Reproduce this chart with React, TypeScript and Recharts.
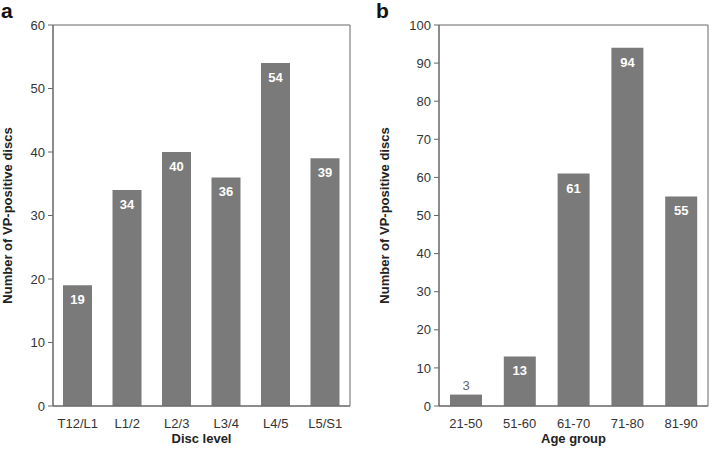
import { BarChart, Bar, XAxis, YAxis, ReferenceArea, LabelList } from "recharts";

const discLevels = ["T12/L1", "L1/2", "L2/3", "L3/4", "L4/5", "L5/S1"];
const discCounts = [19, 34, 40, 36, 54, 39];
const discTicks = [0, 10, 20, 30, 40, 50, 60];

const ageGroups = ["21-50", "51-60", "61-70", "71-80", "81-90"];
const ageCounts = [3, 13, 61, 94, 55];
const ageTicks = [0, 10, 20, 30, 40, 50, 60, 70, 80, 90, 100];

const FONT = '"Liberation Sans", Arial, Helvetica, sans-serif';
const BAR = "#7a7a7a";
const LINE = "#666";

const ValueLabel = (props: any) => {
  const { x, y, width, value } = props;
  const cx = Number(x) + Number(width) / 2;
  if (value < 5) {
    return (
      <text x={cx} y={Number(y) - 5} textAnchor="middle" fontSize={13} fill="#666" fontFamily={FONT}>
        {value}
      </text>
    );
  }
  return (
    <text x={cx} y={Number(y) + 19} textAnchor="middle" fontSize={13} fontWeight="bold" fill="#fff" fontFamily={FONT}>
      {value}
    </text>
  );
};

interface PanelProps {
  cats: string[];
  vals: number[];
  ticks: number[];
  xLabel: string;
  width: number;
  yAxisWidth: number;
  yLabelOffset: number;
  rightMargin: number;
  barSize: number;
}

const Panel = ({ cats, vals, ticks, xLabel, width, yAxisWidth, yLabelOffset, rightMargin, barSize }: PanelProps) => {
  const data = cats.map((c, i) => ({ cat: c, v: vals[i] }));
  const yMax = ticks[ticks.length - 1];
  return (
    <BarChart
      width={width}
      height={451}
      data={data}
      margin={{ top: 25, right: rightMargin, bottom: 0, left: 0 }}
      style={{ fontFamily: FONT }}
    >
      <XAxis
        dataKey="cat"
        height={45}
        tickLine={false}
        tickSize={0}
        tickMargin={13}
        axisLine={{ stroke: LINE }}
        tick={{ fontSize: 13, fill: "#333" }}
        interval={0}
        label={{ value: xLabel, position: "insideBottom", offset: 8, style: { fontWeight: "bold", fontSize: 13, fill: "#222" } }}
      />
      <YAxis
        domain={[0, yMax]}
        ticks={ticks}
        width={yAxisWidth}
        tickSize={5}
        tickMargin={3}
        axisLine={{ stroke: LINE }}
        tickLine={{ stroke: LINE }}
        tick={{ fontSize: 13, fill: "#333" }}
        label={{
          value: "Number of VP-positive discs",
          angle: -90,
          position: "insideLeft",
          offset: yLabelOffset,
          style: { textAnchor: "middle", fontWeight: "bold", fontSize: 13, fill: "#222" },
        }}
      />
      <ReferenceArea y1={0} y2={yMax} fill="none" stroke={LINE} strokeWidth={1} ifOverflow="visible" />
      <Bar dataKey="v" fill={BAR} barSize={barSize} isAnimationActive={false}>
        <LabelList dataKey="v" content={ValueLabel} />
      </Bar>
    </BarChart>
  );
};

export default function App() {
  return (
    <div style={{ position: "absolute", top: 0, left: 0, width: 709, height: 451, background: "#fff", fontFamily: FONT }}>
      <div style={{ position: "absolute", left: 1, top: 2, fontSize: 21, lineHeight: "18px", fontWeight: "bold", color: "#111" }}>a</div>
      <div style={{ position: "absolute", left: 376, top: 2, fontSize: 21, lineHeight: "18px", fontWeight: "bold", color: "#111" }}>b</div>
      <div style={{ position: "absolute", left: 0, top: 0 }}>
        <Panel
          cats={discLevels}
          vals={discCounts}
          ticks={discTicks}
          xLabel="Disc level"
          width={355}
          yAxisWidth={53}
          yLabelOffset={7}
          rightMargin={5}
          barSize={29}
        />
      </div>
      <div style={{ position: "absolute", left: 360, top: 0 }}>
        <Panel
          cats={ageGroups}
          vals={ageCounts}
          ticks={ageTicks}
          xLabel="Age group"
          width={349}
          yAxisWidth={79}
          yLabelOffset={24}
          rightMargin={1}
          barSize={32}
        />
      </div>
    </div>
  );
}
